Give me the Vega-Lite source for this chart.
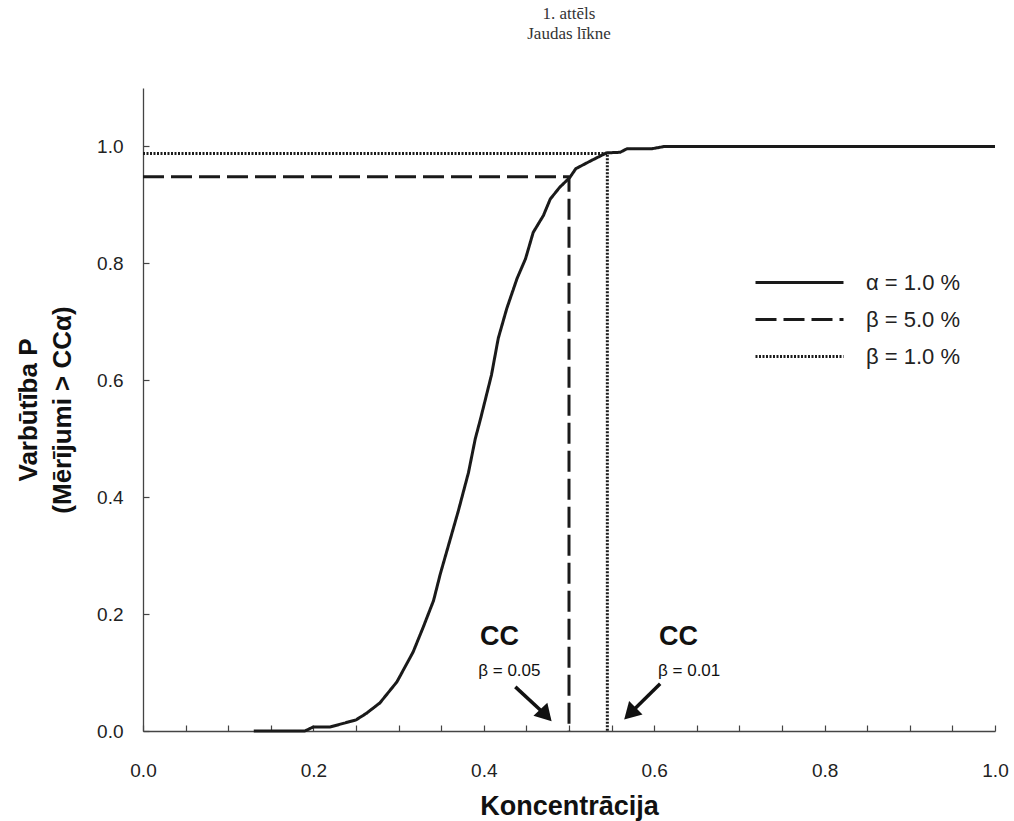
{
  "$schema": "https://vega.github.io/schema/vega-lite/v6.json",
  "autosize": {"type": "none"},
  "width": 852,
  "height": 643,
  "padding": {"left": 143, "top": 88, "right": 19, "bottom": 90},
  "background": "white",
  "title": {
    "text": ["1. attēls", "Jaudas līkne"],
    "font": "Liberation Serif",
    "fontSize": 17,
    "fontWeight": "normal",
    "color": "#333333",
    "lineHeight": 20,
    "anchor": "middle",
    "frame": "group",
    "offset": 45
  },
  "config": {
    "view": {"stroke": null},
    "axis": {
      "grid": false,
      "domainColor": "#444444",
      "domainWidth": 1.3,
      "tickColor": "#444444",
      "tickWidth": 1.2,
      "tickSize": -6,
      "labelFont": "Liberation Sans",
      "labelFontSize": 19,
      "labelColor": "#222222",
      "titleFont": "Liberation Sans",
      "titleFontWeight": "bold",
      "titleColor": "#111111"
    }
  },
  "datasets": {
    "curves": [
      {"series": "α = 1.0 %", "i": 1, "x": 0.13, "y": 0.0},
      {"series": "α = 1.0 %", "i": 2, "x": 0.19, "y": 0.0},
      {"series": "α = 1.0 %", "i": 3, "x": 0.2, "y": 0.007},
      {"series": "α = 1.0 %", "i": 4, "x": 0.22, "y": 0.007},
      {"series": "α = 1.0 %", "i": 5, "x": 0.24, "y": 0.015},
      {"series": "α = 1.0 %", "i": 6, "x": 0.25, "y": 0.019},
      {"series": "α = 1.0 %", "i": 7, "x": 0.262, "y": 0.03},
      {"series": "α = 1.0 %", "i": 8, "x": 0.278, "y": 0.048},
      {"series": "α = 1.0 %", "i": 9, "x": 0.298, "y": 0.084},
      {"series": "α = 1.0 %", "i": 10, "x": 0.317, "y": 0.135},
      {"series": "α = 1.0 %", "i": 11, "x": 0.329, "y": 0.178},
      {"series": "α = 1.0 %", "i": 12, "x": 0.341, "y": 0.223},
      {"series": "α = 1.0 %", "i": 13, "x": 0.349, "y": 0.269},
      {"series": "α = 1.0 %", "i": 14, "x": 0.36, "y": 0.325},
      {"series": "α = 1.0 %", "i": 15, "x": 0.37, "y": 0.376},
      {"series": "α = 1.0 %", "i": 16, "x": 0.382, "y": 0.442},
      {"series": "α = 1.0 %", "i": 17, "x": 0.39, "y": 0.5},
      {"series": "α = 1.0 %", "i": 18, "x": 0.396, "y": 0.533},
      {"series": "α = 1.0 %", "i": 19, "x": 0.409, "y": 0.609},
      {"series": "α = 1.0 %", "i": 20, "x": 0.417, "y": 0.672},
      {"series": "α = 1.0 %", "i": 21, "x": 0.427, "y": 0.723},
      {"series": "α = 1.0 %", "i": 22, "x": 0.439, "y": 0.774},
      {"series": "α = 1.0 %", "i": 23, "x": 0.449, "y": 0.808},
      {"series": "α = 1.0 %", "i": 24, "x": 0.458, "y": 0.853},
      {"series": "α = 1.0 %", "i": 25, "x": 0.47, "y": 0.882},
      {"series": "α = 1.0 %", "i": 26, "x": 0.478, "y": 0.91},
      {"series": "α = 1.0 %", "i": 27, "x": 0.489, "y": 0.93},
      {"series": "α = 1.0 %", "i": 28, "x": 0.501, "y": 0.947},
      {"series": "α = 1.0 %", "i": 29, "x": 0.508, "y": 0.962},
      {"series": "α = 1.0 %", "i": 30, "x": 0.525, "y": 0.975},
      {"series": "α = 1.0 %", "i": 31, "x": 0.544, "y": 0.989},
      {"series": "α = 1.0 %", "i": 32, "x": 0.56, "y": 0.99},
      {"series": "α = 1.0 %", "i": 33, "x": 0.568, "y": 0.996},
      {"series": "α = 1.0 %", "i": 34, "x": 0.597, "y": 0.996},
      {"series": "α = 1.0 %", "i": 35, "x": 0.612, "y": 1.0},
      {"series": "α = 1.0 %", "i": 36, "x": 1.0, "y": 1.0},
      {"series": "β = 5.0 %", "i": 1, "x": 0.0, "y": 0.948},
      {"series": "β = 5.0 %", "i": 2, "x": 0.5, "y": 0.948},
      {"series": "β = 5.0 %", "i": 3, "x": 0.5, "y": 0.0},
      {"series": "β = 1.0 %", "i": 1, "x": 0.0, "y": 0.988},
      {"series": "β = 1.0 %", "i": 2, "x": 0.545, "y": 0.988},
      {"series": "β = 1.0 %", "i": 3, "x": 0.545, "y": 0.0}
    ],
    "arrows": [
      {"arrow": "left", "x": 0.437, "y": 0.0755, "x2": 0.473, "y2": 0.027},
      {"arrow": "right", "x": 0.607, "y": 0.0807, "x2": 0.5716, "y2": 0.0298}
    ],
    "labels": [
      {"kind": "big", "x": 0.3955, "y": 0.1465, "text": "CC"},
      {"kind": "small", "x": 0.3935, "y": 0.094, "text": "β = 0.05"},
      {"kind": "big", "x": 0.6056, "y": 0.1465, "text": "CC"},
      {"kind": "small", "x": 0.6045, "y": 0.094, "text": "β = 0.01"}
    ]
  },
  "layer": [
    {
      "data": {"name": "curves"},
      "mark": {"type": "line", "color": "#1a1a1a", "strokeCap": "butt", "strokeJoin": "round"},
      "encoding": {
        "x": {
          "field": "x",
          "type": "quantitative",
          "scale": {"domain": [0, 1], "nice": false, "zero": false},
          "axis": {
            "values": [0, 0.05, 0.1, 0.15, 0.2, 0.25, 0.3, 0.35, 0.4, 0.45, 0.5, 0.55, 0.6, 0.65, 0.7, 0.75, 0.8, 0.85, 0.9, 0.95, 1.0],
            "labelExpr": "round(datum.value * 20) % 4 == 0 ? format(datum.value, '.1f') : ''",
            "labelFlush": false,
            "labelOverlap": false,
            "labelBound": false,
            "labelPadding": 36,
            "title": "Koncentrācija",
            "titleFontSize": 27,
            "titleY": 75,
            "titleBaseline": "middle"
          }
        },
        "y": {
          "field": "y",
          "type": "quantitative",
          "scale": {"domain": [0, 1.1], "nice": false},
          "axis": {
            "values": [0, 0.2, 0.4, 0.6, 0.8, 1.0],
            "format": ".1f",
            "labelFlush": false,
            "labelOverlap": false,
            "labelPadding": 26,
            "title": ["Varbūtība P", "(Mērījumi > CCα)"],
            "titleFontSize": 26,
            "titleLineHeight": 34,
            "titleAngle": -90,
            "titleBaseline": "middle",
            "titleAlign": "center",
            "titleX": -115,
            "titleY": 321.5
          }
        },
        "order": {"field": "i", "type": "quantitative"},
        "strokeDash": {
          "field": "series",
          "type": "nominal",
          "scale": {
            "domain": ["α = 1.0 %", "β = 5.0 %", "β = 1.0 %"],
            "range": [[1, 0], [21, 7], [2, 1.5]]
          },
          "legend": {
            "title": null,
            "orient": "none",
            "legendX": 611,
            "legendY": 176,
            "symbolType": "stroke",
            "symbolSize": 7744,
            "symbolStrokeColor": "#1a1a1a",
            "symbolStrokeWidth": 3,
            "clipHeight": 37,
            "labelFont": "Liberation Sans",
            "labelFontSize": 22,
            "labelColor": "#222222",
            "labelOffset": 21,
            "padding": 0,
            "rowPadding": 0
          }
        },
        "strokeWidth": {
          "field": "series",
          "type": "nominal",
          "scale": {
            "domain": ["α = 1.0 %", "β = 5.0 %", "β = 1.0 %"],
            "range": [3, 3, 3]
          },
          "legend": null
        }
      }
    },
    {
      "data": {"name": "arrows"},
      "mark": {"type": "rule", "color": "#111111", "strokeWidth": 3.5},
      "encoding": {
        "x": {"field": "x", "type": "quantitative"},
        "y": {"field": "y", "type": "quantitative"},
        "x2": {"field": "x2"},
        "y2": {"field": "y2"}
      }
    },
    {
      "data": {"name": "arrows"},
      "transform": [{"filter": "datum.arrow == 'left'"}],
      "mark": {"type": "point", "shape": "triangle-up", "filled": true, "color": "#111111", "size": 360, "angle": 137, "opacity": 1},
      "encoding": {
        "x": {"field": "x2", "type": "quantitative"},
        "y": {"field": "y2", "type": "quantitative"}
      }
    },
    {
      "data": {"name": "arrows"},
      "transform": [{"filter": "datum.arrow == 'right'"}],
      "mark": {"type": "point", "shape": "triangle-up", "filled": true, "color": "#111111", "size": 360, "angle": 225, "opacity": 1},
      "encoding": {
        "x": {"field": "x2", "type": "quantitative"},
        "y": {"field": "y2", "type": "quantitative"}
      }
    },
    {
      "data": {"name": "labels"},
      "transform": [{"filter": "datum.kind == 'big'"}],
      "mark": {"type": "text", "align": "left", "baseline": "alphabetic", "font": "Liberation Sans", "fontSize": 27, "fontWeight": "bold", "color": "#111111"},
      "encoding": {
        "x": {"field": "x", "type": "quantitative"},
        "y": {"field": "y", "type": "quantitative"},
        "text": {"field": "text"}
      }
    },
    {
      "data": {"name": "labels"},
      "transform": [{"filter": "datum.kind == 'small'"}],
      "mark": {"type": "text", "align": "left", "baseline": "alphabetic", "font": "Liberation Sans", "fontSize": 17, "color": "#111111"},
      "encoding": {
        "x": {"field": "x", "type": "quantitative"},
        "y": {"field": "y", "type": "quantitative"},
        "text": {"field": "text"}
      }
    }
  ]
}
